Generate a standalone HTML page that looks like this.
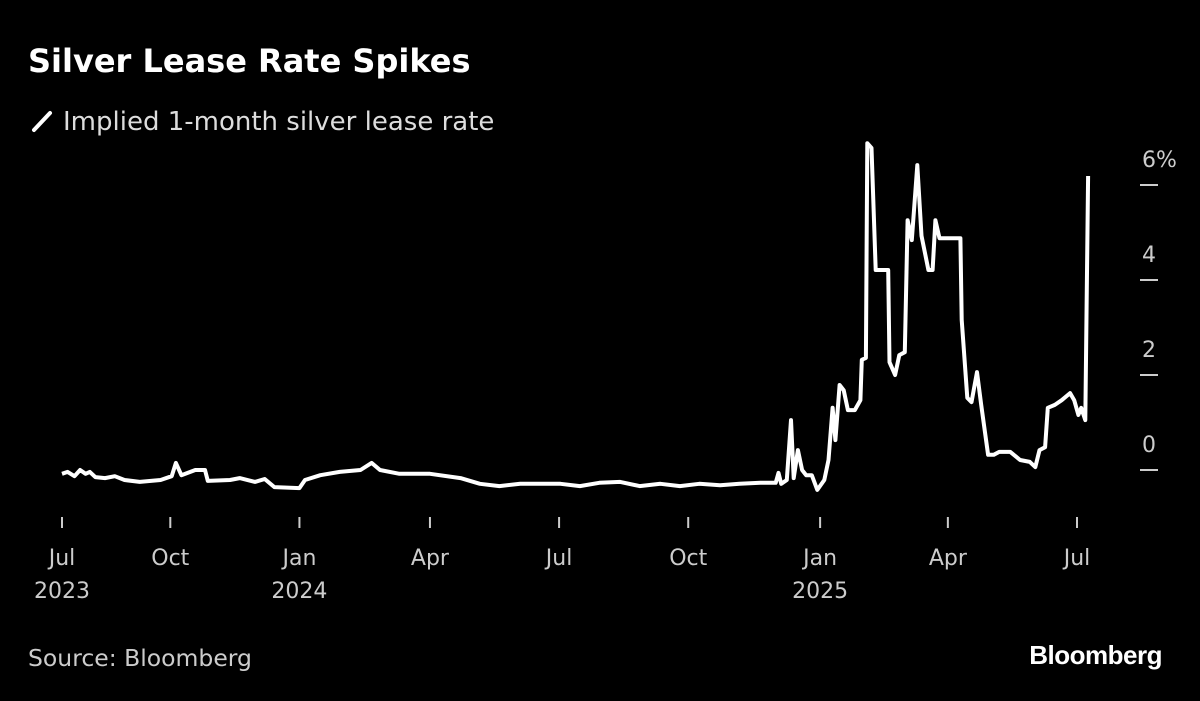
<!DOCTYPE html>
<html><head><meta charset="utf-8"><style>
body{margin:0;background:#000;width:1200px;height:697px;overflow:hidden;font-family:"DejaVu Sans",sans-serif;color:#fff}
</style></head><body>
<svg width="1200" height="697" viewBox="0 0 1200 697" font-family="DejaVu Sans, sans-serif">
<rect width="1200" height="697" fill="#000"/>
<text x="28" y="72" font-size="32" font-weight="bold" fill="#fff">Silver Lease Rate Spikes</text>
<line x1="34" y1="130" x2="50" y2="113" stroke="#fff" stroke-width="4" stroke-linecap="round"/>
<text x="63" y="130" font-size="26" fill="#ddd">Implied 1-month silver lease rate</text>
<g id="axes"></g>
<path id="line" fill="none" stroke="#fff" stroke-width="4" stroke-linejoin="round"/>
<text x="28" y="666" font-size="23.5" fill="#ccc">Source: Bloomberg</text>
<text x="1162" y="664" font-size="26" font-weight="bold" fill="#fff" text-anchor="end" letter-spacing="-0.5" font-family="Liberation Sans, sans-serif">Bloomberg</text>
</svg>
<script>
const days=[0,4,9,13,17,20,24,31,38,45,56,71,79,82,86,96,103,105,121,128,139,146,153,171,175,186,200,215,223,229,243,265,287,301,315,330,344,359,373,387,402,416,431,445,459,474,488,503,514,516,518,522,525,527,530,533,536,540,544,549,552,555,557,560,563,566,571,575,576,579,580,583,586,595,596,600,603,607,609,612,616,619,624,627,629,632,647,648,652,655,659,662,667,671,675,683,690,697,701,704,708,710,715,720,726,729,732,734,737,739];
const values=[-0.08,-0.04,-0.13,0,-0.08,-0.04,-0.15,-0.17,-0.13,-0.21,-0.25,-0.21,-0.13,0.15,-0.11,0,0,-0.23,-0.21,-0.17,-0.25,-0.19,-0.36,-0.38,-0.21,-0.11,-0.04,0,0.15,0,-0.08,-0.08,-0.17,-0.29,-0.34,-0.29,-0.29,-0.29,-0.34,-0.27,-0.25,-0.34,-0.29,-0.34,-0.29,-0.32,-0.29,-0.27,-0.27,-0.06,-0.29,-0.21,1.05,-0.17,0.42,0,-0.11,-0.11,-0.42,-0.21,0.21,1.31,0.63,1.79,1.68,1.26,1.26,1.47,2.32,2.36,6.88,6.78,4.21,4.21,2.27,2.0,2.42,2.48,5.26,4.84,6.42,4.93,4.21,4.21,5.26,4.88,4.88,3.16,1.52,1.43,2.06,1.37,0.32,0.32,0.38,0.38,0.21,0.17,0.06,0.42,0.48,1.31,1.37,1.47,1.62,1.47,1.16,1.31,1.05,6.19];
const yTicks=[0,2,4,6];
const yLabels=["0","2","4","6%"];
const xTickDays=[0,78,171,265,358,451,546,638,731];
const xLabels=["Jul","Oct","Jan","Apr","Jul","Oct","Jan","Apr","Jul"];
const xYears=["2023","","2024","","","","2025","",""];
const X=d=>62+d*1.3885, Y=v=>470-v*47.5;
const ns="http://www.w3.org/2000/svg", ax=document.getElementById('axes');
function mk(t,a){const e=document.createElementNS(ns,t);for(const k in a)e.setAttribute(k,a[k]);ax.appendChild(e);return e;}
yTicks.forEach((v,i)=>{
 const l=mk('line',{x1:1140,x2:1158,y1:Y(v),y2:Y(v),stroke:'#ccc','stroke-width':2});
 
 
 const t=mk('text',{x:1142,y:Y(v)-18,'font-size':22,fill:'#ccc'});t.textContent=yLabels[i];
 
 
});
xTickDays.forEach((d,i)=>{
 const l=mk('line',{x1:X(d),x2:X(d),y1:517,y2:528,stroke:'#ccc','stroke-width':2});
 
 
 const t=mk('text',{x:X(d),y:565,'font-size':22,fill:'#ccc','text-anchor':'middle'});t.textContent=xLabels[i];
 
 
 if(xYears[i]){const y=mk('text',{x:X(d),y:598,'font-size':22,fill:'#ccc','text-anchor':'middle'});y.textContent=xYears[i];
 
 }
});
document.getElementById('line').setAttribute('d',days.map((d,i)=>(i?'L':'M')+X(d).toFixed(1)+' '+Y(values[i]).toFixed(1)).join(' '));
</script>
</body></html>
